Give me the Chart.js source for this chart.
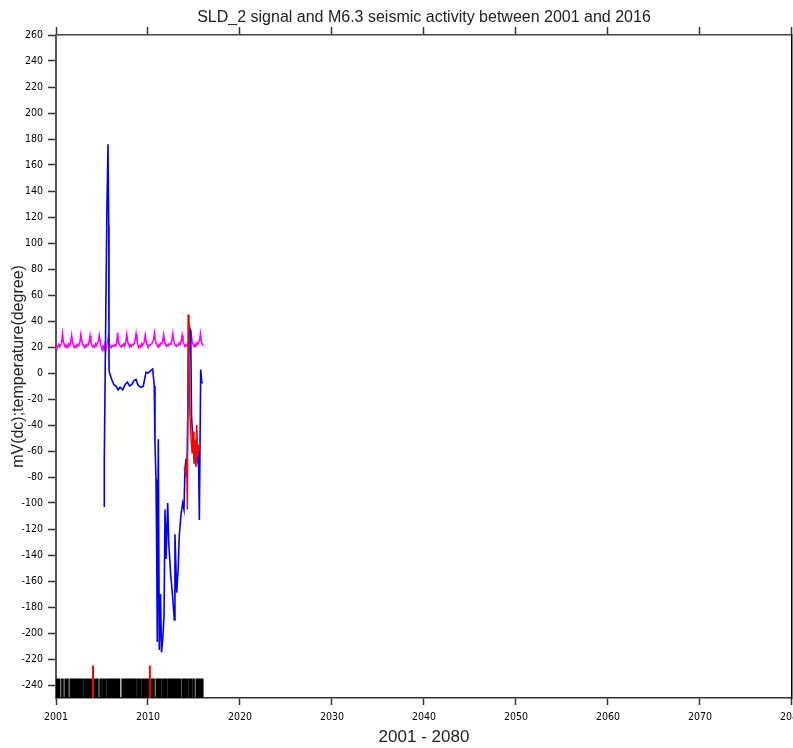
<!DOCTYPE html>
<html>
<head>
<meta charset="utf-8">
<script src="https://cdn.jsdelivr.net/npm/chart.js@4"></script>
<style>
html,body{margin:0;padding:0;background:#fff;overflow:hidden;}
#wrap{width:810px;height:748px;position:relative;}
</style>
</head>
<body>
<div id="wrap"><canvas id="c"></canvas></div>
<script>
// ---- data ----
const titleText = "SLD_2 signal and M6.3 seismic activity between 2001 and 2016";
const xTitle = "2001 - 2080";
const yTitle = "mV(dc);temperature(degree)";
const xTickValues = [2000, 2010, 2020, 2030, 2040, 2050, 2060, 2070, 2080];
const xTickLabels = ["2001", "2010", "2020", "2030", "2040", "2050", "2060", "2070", "2080"];
const yTickValues = [-240,-220,-200,-180,-160,-140,-120,-100,-80,-60,-40,-20,0,20,40,60,80,100,120,140,160,180,200,220,240,260];

// SLD_2 signal (blue)
const blueX = [2005.25,2005.25,2005.43,2005.54,2005.65,2005.73,2005.76,2005.78,2006.05,2006.3,2006.52,2006.75,2006.96,2007.25,2007.5,2007.75,2008.0,2008.23,2008.45,2008.7,2008.9,2009.13,2009.3,2009.49,2009.78,2010.0,2010.22,2010.51,2010.68,2010.76,2010.87,2010.95,2011.01,2011.12,2011.23,2011.36,2011.47,2011.6,2011.74,2011.85,2011.96,2012.14,2012.25,2012.47,2012.68,2012.86,2012.93,2013.12,2013.29,2013.4,2013.59,2013.77,2013.91,2014.02,2014.13,2014.24,2014.4,2014.49,2014.64,2014.73,2014.86,2015.0,2015.16,2015.33,2015.49,2015.58,2015.73,2015.84,2015.94];
const blueY = [-103,-66,59,128,176,113,8,1,-5,-9,-10,-13,-11,-13,-9,-7,-10,-9,-6,-5,-9,-10.6,-11,-10,0.6,0,1.4,3,-10,-54,-82,-141,-207,-51,-213,-170,-215,-205,-187,-105,-143,-100,-130,-156,-172,-190,-124,-169,-149,-125,-109,-100,-105,-74,-66,-75,5,36,32,-33,-49,-62,-55,-68,-60,-113,2.7,-7,-8];

// second signal segment (red)
const redX = [2014.02,2014.13,2014.2,2014.28,2014.36,2014.45,2014.55,2014.68,2014.8,2014.9,2015.0,2015.1,2015.2,2015.3,2015.4,2015.5];
const redY = [-72,-80,-66,-105,45,10,-30,-50,-62,-45,-70,-52,-72,-40,-65,-55];

// temperature (magenta), sampled every 0.1 year starting 2000.0
const tempStart = 2000.0;
const tempStep = 0.1;
const tempY = [
 21,19.5,20.5,22,20,21.5,23,30,24,22,
 20,21.5,19.5,21,22.5,21,24,29,23.5,21,
 19.5,21,20,22,21,22.5,23.5,29.5,25,22,
 20.5,19.5,21.5,20.5,22,21.5,24.5,28.5,23,21.5,
 20,21,20,22.5,21,23,24,29,24.5,21,
 19,20.5,18,21.5,17,22,23,28,22,20.5,
 19.5,21,20.5,21.5,22,21,23.5,31,24,21.5,
 20.5,20,21.5,21,22.5,22,24.5,29.5,23.5,22,
 20,21.5,20.5,22,21.5,23,25,30,24.5,21.5,
 19.5,21,20,22.5,21,22.5,24,29,24,22,
 20.5,21.5,21,22,22.5,23.5,25.5,30.5,25,22.5,
 21,20,22,21.5,23,22.5,24.5,29.5,24,22,
 20.5,21.5,21,22.5,22,23.5,25,30,24.5,22,
 21,20.5,22,21.5,23,22,24.5,29,24,22.5,
 20.5,21.5,21,22.5,22,23,24.5,29.5,23.5,22,
 21,22,20.5,23,22,23.5,25,30,24,22,
 21];

// M6.3 seismic events (black) and major events (red)
const quakeYears = [2000.1,2000.35,2000.7,2001.05,2001.25,2001.6,2001.85,2002.1,2002.35,2002.6,2002.8,2003.1,2003.35,2003.6,2003.85,2004.1,2004.35,2004.5,2004.85,2005.15,2005.3,2005.6,2005.85,2006.1,2006.35,2006.6,2006.85,2007.25,2007.5,2007.75,2008.0,2008.25,2008.5,2008.65,2008.95,2009.1,2009.4,2009.65,2009.9,2010.15,2010.4,2010.6,2010.95,2011.05,2011.3,2011.6,2011.72,2012.0,2012.3,2012.42,2012.7,2012.82,2013.1,2013.25,2013.48,2013.8,2013.9,2014.15,2014.25,2014.55,2014.65,2014.95,2015.3,2015.4,2015.65,2015.9];
const majorQuakeYears = [2004.02, 2010.2];
const quakeBase = -250, quakeTop = -235, majorTop = -225;

// ---- build datasets ----
const bluePts = blueX.map((x,i)=>({x, y: blueY[i]}));
const redPts = redX.map((x,i)=>({x, y: redY[i]}));
const tempPts = tempY.map((y,i)=>({x: tempStart + i*tempStep, y}));
function bars(years, top){
  const out = [];
  years.forEach(x=>{ out.push({x, y: quakeBase}); out.push({x, y: top}); out.push({x, y: null}); });
  return out;
}

const font = "'Liberation Sans', Arial, sans-serif";
const tickFont = "'Liberation Sans Narrow', 'DejaVu Sans Condensed', 'Liberation Sans', sans-serif";

new Chart(document.getElementById('c'), {
  type: 'line',
  data: {
    datasets: [
      {data: redPts, borderColor: '#ff0000', borderWidth: 1.5, pointRadius: 0, tension: 0, order: 0},
      {data: bars(majorQuakeYears, majorTop), borderColor: '#ff0000', borderWidth: 2, pointRadius: 0, spanGaps: false, order: 1},
      {data: bluePts, borderColor: '#0000ff', borderWidth: 1.6, pointRadius: 0, tension: 0, order: 2},
      {data: tempPts, borderColor: '#ff00ff', borderWidth: 1.6, pointRadius: 0, tension: 0, order: 3},
      {data: bars(quakeYears, quakeTop), borderColor: '#000000', borderWidth: 2.6, borderCapStyle: 'butt', pointRadius: 0, spanGaps: false, order: 4}
    ]
  },
  options: {
    responsive: true,
    maintainAspectRatio: false,
    animation: false,
    events: [],
    layout: {padding: {left: 0, right: 0, top: 0, bottom: 0}},
    plugins: {
      legend: {display: false},
      tooltip: {enabled: false},
      title: {display: false}
    },
    scales: {
      x: {
        type: 'linear', position: 'bottom', min: 2000, max: 2080,
        afterBuildTicks: s => { s.ticks = xTickValues.map(v=>({value: v})); },
        afterFit: s => { s.height = 50; },
        ticks: {autoSkip: false, maxRotation: 0, color: '#000', padding: 6, font: {family: tickFont, size: 10.5},
          callback: (v)=> xTickLabels[xTickValues.indexOf(v)]},
        grid: {drawOnChartArea: false, drawTicks: true, tickLength: 7, tickColor: '#333', tickWidth: 1.5},
        border: {display: true, color: '#333', width: 1.5},
        title: {display: true, text: xTitle, color: '#222', font: {family: font, size: 17, weight: 'normal'}, padding: {top: 2, bottom: 0}}
      },
      xTop: {
        type: 'linear', position: 'top', min: 2000, max: 2080,
        afterBuildTicks: s => { s.ticks = xTickValues.map(v=>({value: v})); },
        afterFit: s => { s.height = 35; },
        ticks: {display: false},
        grid: {drawOnChartArea: false, drawTicks: true, tickLength: 8, tickColor: '#333', tickWidth: 1.5},
        border: {display: true, color: '#444', width: 1.5},
        title: {display: true, text: titleText, color: '#222', font: {family: font, size: 16, weight: 'normal'}, padding: {top: 8, bottom: 0}}
      },
      y: {
        type: 'linear', position: 'left', min: -250, max: 260,
        afterBuildTicks: s => { s.ticks = yTickValues.map(v=>({value: v})); },
        afterFit: s => { s.width = 56; },
        ticks: {autoSkip: false, color: '#000', padding: 5, font: {family: tickFont, size: 10.5}},
        grid: {drawOnChartArea: false, drawTicks: true, tickLength: 8, tickColor: '#333', tickWidth: 1.5},
        border: {display: true, color: '#555', width: 2},
        title: {display: true, text: yTitle, color: '#222', font: {family: font, size: 16, weight: 'normal'}, padding: {top: 8.5, bottom: 0}}
      },
      yRight: {
        type: 'linear', position: 'right', min: -250, max: 260,
        ticks: {display: false},
        grid: {drawOnChartArea: false, drawTicks: false},
        border: {display: true, color: '#000', width: 1.5}
      }
    }
  }
});
</script>
</body>
</html>
